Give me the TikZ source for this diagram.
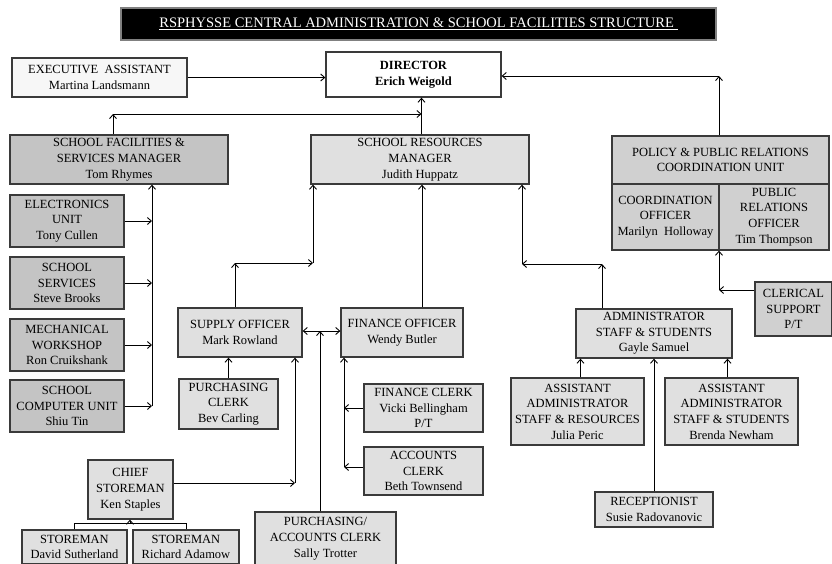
\documentclass[tikz,border=0pt]{standalone}
\usepackage{fontspec}
\setmainfont{Liberation Serif}
\usepackage{xcolor}
\usepackage{tikz}
\usetikzlibrary{arrows.meta}
\definecolor{boxdark}{RGB}{196,196,196}
\definecolor{boxmid}{RGB}{208,208,208}
\definecolor{boxlight}{RGB}{224,224,224}
\definecolor{boxpale}{RGB}{247,247,247}
\definecolor{boxline}{RGB}{58,58,58}
\definecolor{titleline}{RGB}{128,128,128}

\begin{document}
\begin{tikzpicture}[x=1pt,y=-1pt,
  box/.style={draw=boxline, line width=1.3pt, align=center, inner sep=0pt, font=\fontsize{12.5}{15.7}\selectfont},
  arr/.style={-{Straight Barb[length=4pt,width=7pt]}, line width=0.9pt},
  dbl/.style={{Straight Barb[length=4pt,width=7pt]}-{Straight Barb[length=4pt,width=7pt]}, line width=0.9pt}]
\useasboundingbox (0,0) rectangle (832,563);
\clip (0,0) rectangle (832,563);
% Title
\node[box, draw=titleline, fill=black, text=white, minimum width=595pt, minimum height=32pt, font=\fontsize{14.5}{16}\selectfont] (title) at (418.5,24) {\underline{RSPHYSSE CENTRAL ADMINISTRATION \& SCHOOL FACILITIES STRUCTURE\ }};

% Boxes
\node[box, fill=boxpale, minimum width=175pt, minimum height=39pt] (exec) at (99.5,77.5) {EXECUTIVE\ \ ASSISTANT\\Martina Landsmann};
\node[box, fill=white, minimum width=175pt, minimum height=45pt] (dir) at (413.5,74.5) {\textbf{DIRECTOR}\\\textbf{Erich Weigold}};
\node[box, fill=boxdark, minimum width=218pt, minimum height=49pt] (fac) at (119,159.5) {SCHOOL FACILITIES \&\\SERVICES MANAGER\\Tom Rhymes};
\node[box, fill=boxlight, minimum width=218pt, minimum height=49pt] (res) at (420,159.5) {SCHOOL RESOURCES\\MANAGER\\Judith Huppatz};
\node[box, fill=boxmid, minimum width=217pt, minimum height=48pt] (pol) at (720.5,160) {POLICY \& PUBLIC RELATIONS\\COORDINATION UNIT};
\node[box, fill=boxmid, minimum width=107pt, minimum height=66pt] (polco) at (665.5,217) {COORDINATION\\OFFICER\\Marilyn\ \ Holloway};
\node[box, fill=boxmid, minimum width=110pt, minimum height=66pt] (polpr) at (774,217) {PUBLIC\\RELATIONS\\OFFICER\\Tim Thompson};
\node[box, fill=boxdark, minimum width=114pt, minimum height=52pt] (elec) at (67,221) {ELECTRONICS\\UNIT\\Tony Cullen};
\node[box, fill=boxdark, minimum width=114pt, minimum height=52pt] (serv) at (67,283) {SCHOOL\\SERVICES\\Steve Brooks};
\node[box, fill=boxdark, minimum width=114pt, minimum height=52pt] (mech) at (67,345) {MECHANICAL\\WORKSHOP\\Ron Cruikshank};
\node[box, fill=boxdark, minimum width=114pt, minimum height=52pt] (comp) at (67,406) {SCHOOL\\COMPUTER UNIT\\Shiu Tin};
\node[box, fill=boxlight, minimum width=124pt, minimum height=49pt] (supply) at (240,332.5) {SUPPLY OFFICER\\Mark Rowland};
\node[box, fill=boxlight, minimum width=122pt, minimum height=49pt] (fin) at (402,332.5) {FINANCE OFFICER\\Wendy Butler};
\node[box, fill=boxlight, minimum width=99pt, minimum height=50pt] (purch) at (228.5,404) {PURCHASING\\CLERK\\Bev Carling};
\node[box, fill=boxlight, minimum width=119pt, minimum height=48pt] (finclerk) at (423.5,408) {FINANCE CLERK\\Vicki Bellingham\\P/T};
\node[box, fill=boxlight, minimum width=119pt, minimum height=48pt] (acclerk) at (423.5,471) {ACCOUNTS\\CLERK\\Beth Townsend};
\node[box, fill=boxlight, minimum width=85pt, minimum height=59pt] (chief) at (130.5,489.5) {CHIEF\\STOREMAN\\Ken Staples};
\node[box, fill=boxlight, minimum width=105pt, minimum height=34pt] (david) at (74.5,547) {STOREMAN\\David Sutherland};
\node[box, fill=boxlight, minimum width=106pt, minimum height=34pt] (richard) at (186,547) {STOREMAN\\Richard Adamow};
\node[box, fill=boxlight, minimum width=141pt, minimum height=53pt] (paclerk) at (325.5,538.5) {PURCHASING/\\ACCOUNTS CLERK\\Sally Trotter};
\node[box, fill=boxlight, minimum width=156pt, minimum height=49pt] (admin) at (654,333.5) {ADMINISTRATOR\\STAFF \& STUDENTS\\Gayle Samuel};
\node[box, fill=boxlight, minimum width=133pt, minimum height=67pt] (asstres) at (577.5,411.5) {ASSISTANT\\ADMINISTRATOR\\STAFF \& RESOURCES\\Julia Peric};
\node[box, fill=boxlight, minimum width=133pt, minimum height=67pt] (asststu) at (731.5,411.5) {ASSISTANT\\ADMINISTRATOR\\STAFF \& STUDENTS\\Brenda Newham};
\node[box, fill=boxlight, minimum width=118pt, minimum height=35pt] (recep) at (654,509.5) {RECEPTIONIST\\Susie Radovanovic};
\node[box, fill=boxmid, minimum width=77pt, minimum height=54pt] (cler) at (793.5,309) {CLERICAL\\SUPPORT\\P/T};

% Corners
\coordinate (pc) at (719,76);
\coordinate (fc) at (113,114);
\coordinate (rc) at (421.5,114);
\coordinate (fbus) at (152,406);
\coordinate (sc) at (235,263);
\coordinate (sr) at (313,263);
\coordinate (fr) at (422,263);
\coordinate (ac) at (602,264);
\coordinate (ar) at (522,264);
\coordinate (cc) at (719,290);
\coordinate (pa) at (320,331);
\coordinate (kc) at (295,483);
\coordinate (fb) at (344,467);
\coordinate (sb) at (130,523);

%Lines
\draw[arr] (exec.east) -- (exec.east -| dir.west);
\draw[arr] (pc |- pol.north) -- (pc);
\draw[arr] (pc) -- (pc -| dir.east);
\draw[arr] (fc |- fac.north) -- (fc);
\draw[arr] (fc) -- (rc);
\draw[arr] (rc |- res.north) -- (rc |- dir.south);
\draw[arr] (fbus) -- (fbus |- fac.south);
\draw[arr] (elec.east) -- (elec.east -| fbus);
\draw[arr] (serv.east) -- (serv.east -| fbus);
\draw[arr] (mech.east) -- (mech.east -| fbus);
\draw[arr] (comp.east) -- (comp.east -| fbus);
\draw[arr] (sc |- supply.north) -- (sc);
\draw[arr] (sc) -- (sr);
\draw[arr] (sr) -- (sr |- res.south);
\draw[arr] (fr |- fin.north) -- (fr |- res.south);
\draw[arr] (ac |- admin.north) -- (ac);
\draw[arr] (ac) -- (ar);
\draw[arr] (ar) -- (ar |- res.south);
\draw[arr] (cc -| cler.west) -- (cc);
\draw[arr] (cc) -- (cc |- polpr.south);
\draw[dbl] (pa -| supply.east) -- (pa -| fin.west);
\draw[arr] (pa |- paclerk.north) -- (pa);
\draw[arr] (purch.north) -- (purch.north |- supply.south);
\draw[arr] (kc -| chief.east) -- (kc);
\draw[arr] (kc) -- (kc |- supply.south);
\draw[arr] (fb) -- (fb |- fin.south);
\draw[arr] (finclerk.west) -- (finclerk.west -| fb);
\draw[arr] (fb -| acclerk.west) -- (fb);
\draw (david.north) |- (sb) -| (richard.north);
\draw[arr] (sb) -- (sb |- chief.south);
\draw[arr] ([xshift=3pt]asstres.north) -- ([xshift=3pt]asstres.north |- admin.south);
\draw[arr] ([xshift=-4pt]asststu.north) -- ([xshift=-4pt]asststu.north |- admin.south);
\draw[arr] (recep.north) -- (admin.south);
\end{tikzpicture}
\end{document}
